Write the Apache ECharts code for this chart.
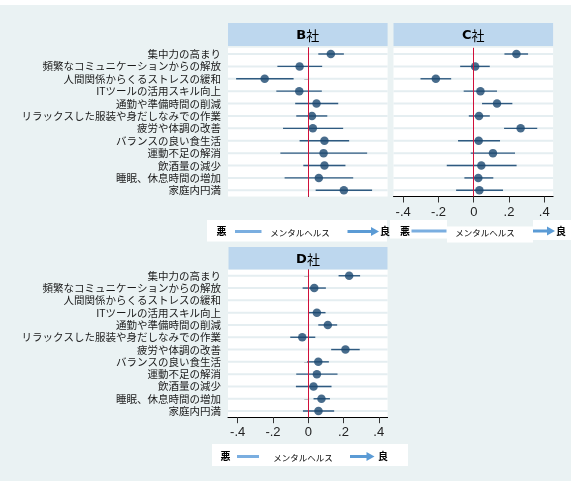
<!DOCTYPE html>
<html><head><meta charset="utf-8">
<script src="https://cdn.jsdelivr.net/npm/echarts@6/dist/echarts.min.js"></script>
<style>html,body{margin:0;padding:0;background:#fff}#c{width:576px;height:488px}</style>
</head><body><div id="c"></div>
<script>
const categories = ['集中力の高まり','頻繁なコミュニケーションからの解放','人間関係からくるストレスの緩和','ITツールの活用スキル向上','通勤や準備時間の削減','リラックスした服装や身だしなみでの作業','疲労や体調の改善','バランスの良い食生活','運動不足の解消','飲酒量の減少','睡眠、休息時間の増加','家庭内円満'];

const bEst  = [0.128,-0.049,-0.247,-0.051,0.047,0.021,0.026,0.092,0.087,0.092,0.060,0.202];
const bLow  = [0.057,-0.175,-0.409,-0.181,-0.074,-0.068,-0.143,-0.049,-0.158,-0.028,-0.134,0.042];
const bHigh = [0.202,0.079,-0.083,0.077,0.170,0.108,0.198,0.232,0.334,0.211,0.255,0.362];

const cEst  = [0.242,0.008,-0.215,0.038,0.132,0.030,0.266,0.028,0.109,0.043,0.026,0.032];
const cLow  = [0.174,-0.077,-0.302,-0.057,0.047,-0.028,0.172,-0.089,-0.017,-0.153,-0.053,-0.100];
const cHigh = [0.308,0.091,-0.128,0.132,0.219,0.091,0.360,0.149,0.234,0.243,0.111,0.166];

const dEst  = [0.232,0.034,null,0.049,0.111,-0.034,0.211,0.057,0.049,0.030,0.075,0.058];
const dLow  = [0.172,-0.032,null,0.000,0.057,-0.102,0.130,-0.006,-0.068,-0.070,0.030,-0.030];
const dHigh = [0.294,0.100,null,0.098,0.164,0.040,0.292,0.117,0.166,0.132,0.123,0.147];

const xTicks = [-0.4,-0.2,0,0.2,0.4];
const panelLetters = ['B','C','D'];
const panelSuffix = '社';
const legendLow = '悪', legendMid = 'メンタルヘルス', legendHigh = '良';

const NAVY = '#1a476f';
const XMIN = -0.455, XMAX = 0.45;
const grids = [
  {left:228, top:47.8, width:159.6, height:148.7},
  {left:393.5, top:47.8, width:159.6, height:148.7},
  {left:228, top:269.6, width:159.6, height:147.6}
];
const panels = [
  {est:bEst, low:bLow, high:bHigh, yLabels:true, xLabels:false},
  {est:cEst, low:cLow, high:cHigh, yLabels:false, xLabels:true},
  {est:dEst, low:dLow, high:dHigh, yLabels:true, xLabels:true}
];
const fmt = v => v === 0 ? '0' : (v < 0 ? '-' : '') + '.' + Math.round(Math.abs(v) * 10);

const xAxes = [], yAxes = [], series = [], gridOpts = [];
panels.forEach((p, k) => {
  gridOpts.push(Object.assign({show:true, backgroundColor:'#fff', borderWidth:0, containLabel:false}, grids[k]));
  xAxes.push({
    type:'value', gridIndex:k, min:XMIN, max:XMAX,
    axisLine:{show:p.xLabels, onZero:false, lineStyle:{color:'#000', width:1}},
    axisTick:{show:p.xLabels, customValues:xTicks, length:6, lineStyle:{color:'#333'}},
    axisLabel:{show:p.xLabels, customValues:xTicks, formatter:fmt, fontSize:13, color:'#222', margin:9, fontFamily:'Liberation Sans, Arial, sans-serif'},
    splitLine:{show:false}
  });
  yAxes.push({
    type:'category', gridIndex:k, data:categories, inverse:true,
    axisLine:{show:p.yLabels, lineStyle:{color:'#333', width:1}},
    axisTick:{show:p.yLabels, alignWithLabel:true, length:4, lineStyle:{color:'#333'}},
    axisLabel:{show:p.yLabels, fontSize:10.5, color:'#1a1a1a', margin:7, fontFamily:'Noto Sans CJK JP, sans-serif', interval:0},
    splitLine:{show:false}
  });
  series.push({
    type:'custom', xAxisIndex:k, yAxisIndex:k, z:1, silent:true,
    data: categories.map((c, i) => [0, i]),
    encode:{x:0, y:1},
    renderItem:(params, api) => {
      const y = api.coord([0, api.value(1)])[1];
      const cs = params.coordSys;
      return {type:'line', shape:{x1:cs.x, y1:y, x2:cs.x + cs.width, y2:y}, style:{stroke:'#e5eef1', lineWidth:2}};
    }
  });
  const ci = [];
  p.low.forEach((l, i) => { if (l != null) ci.push([l, p.high[i], i]); });
  series.push({
    type:'custom', xAxisIndex:k, yAxisIndex:k, z:2, silent:true,
    data: ci, encode:{x:[0,1], y:2},
    renderItem:(params, api) => {
      const a = api.coord([api.value(0), api.value(2)]);
      const b = api.coord([api.value(1), api.value(2)]);
      return {type:'line', shape:{x1:a[0], y1:a[1], x2:b[0], y2:b[1]}, style:{stroke:'#2f5a80', lineWidth:1.4}};
    }
  });
  series.push({
    type:'line', xAxisIndex:k, yAxisIndex:k, z:3, data:[], silent:true,
    markLine:{silent:true, symbol:'none', label:{show:false},
      lineStyle:{color:'#d0103a', width:1, type:'solid'}, data:[{xAxis:0}]}
  });
  const pts = [];
  p.est.forEach((v, i) => { if (v != null) pts.push([v, i]); });
  series.push({
    type:'scatter', xAxisIndex:k, yAxisIndex:k, z:4, symbol:'circle', symbolSize:8.5,
    itemStyle:{color:NAVY}, data:pts
  });
});

const graphics = [
  {type:'rect', z:-100, shape:{x:0, y:5, width:571, height:476}, style:{fill:'#eaf2f3'}}
];
const strips = [
  {x:228, y:23, w:159.6, h:23},
  {x:393.5, y:23, w:159.6, h:23},
  {x:228.5, y:247, w:159, h:22.6}
];
strips.forEach((s, k) => {
  graphics.push({type:'rect', z:5, shape:{x:s.x, y:s.y, width:s.w, height:s.h}, style:{fill:'#bdd7ee'}});
  graphics.push({type:'text', z:6, x:s.x + s.w/2, y:s.y + s.h/2 + 1,
    style:{text:'{b|' + panelLetters[k] + '}{s|' + panelSuffix + '}', align:'center', verticalAlign:'middle',
      rich:{b:{fontSize:13, fontWeight:'bold', fontFamily:'DejaVu Sans, sans-serif', fill:'#000'},
            s:{fontSize:13, fontFamily:'Noto Sans CJK JP, sans-serif', fill:'#000'}}}});
});
function legend(boxes, y, xs) {
  boxes.forEach(b => graphics.push({type:'rect', z:5, shape:{x:b[0], y:b[1], width:b[2], height:b[3]}, style:{fill:'#fff'}}));
  graphics.push({type:'text', z:6, x:xs.low, y:y, style:{text:legendLow, fontSize:10, fontWeight:'bold', fill:'#000', align:'center', verticalAlign:'middle', fontFamily:'Noto Sans CJK JP, sans-serif'}});
  graphics.push({type:'line', z:6, shape:{x1:xs.l1, y1:y, x2:xs.l2, y2:y}, style:{stroke:'#7aaee0', lineWidth:3}});
  graphics.push({type:'text', z:6, x:xs.mid, y:y + 1.5, style:{text:legendMid, fontSize:8.5, fill:'#000', align:'center', verticalAlign:'middle', fontFamily:'Noto Sans CJK JP, sans-serif'}});
  graphics.push({type:'line', z:6, shape:{x1:xs.a1, y1:y, x2:xs.a2 - 7, y2:y}, style:{stroke:'#5b9bd5', lineWidth:3}});
  graphics.push({type:'polygon', z:6, shape:{points:[[xs.a2 - 8, y - 4.5],[xs.a2, y],[xs.a2 - 8, y + 4.5]]}, style:{fill:'#5b9bd5'}});
  graphics.push({type:'text', z:6, x:xs.high, y:y, style:{text:legendHigh, fontSize:10, fontWeight:'bold', fill:'#000', align:'center', verticalAlign:'middle', fontFamily:'Noto Sans CJK JP, sans-serif'}});
}
legend([[207, 220, 180, 21.5]], 231.5, {low:221.5, l1:235, l2:261.5, mid:300, a1:347.5, a2:379, high:385});
legend([[390, 220, 57, 18.5],[447, 226.5, 86, 16],[533, 220, 38, 20]], 231, {low:405, l1:411.5, l2:446.5, mid:485, a1:533, a2:555, high:561});
legend([[212, 444, 196, 22]], 456.5, {low:225.5, l1:237, l2:259, mid:303, a1:350, a2:374.5, high:383});

const chart = echarts.init(document.getElementById('c'), null, {renderer:'canvas'});
chart.setOption({
  backgroundColor:'#fff',
  animation:false,
  grid:gridOpts, xAxis:xAxes, yAxis:yAxes, series:series,
  graphic:{elements:graphics}
});
</script></body></html>
